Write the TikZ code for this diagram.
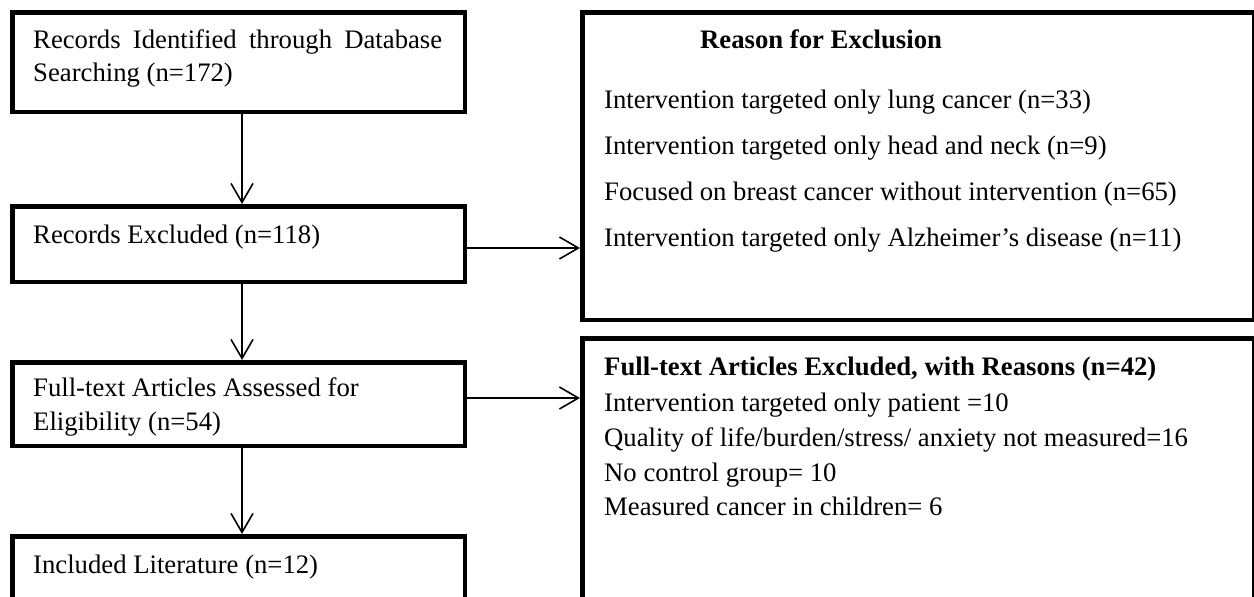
\documentclass[tikz,border=0pt]{standalone}
\usepackage{fontspec}
\setmainfont{Liberation Serif}
\usetikzlibrary{arrows.meta}
\begin{document}
\begin{tikzpicture}[x=1pt,y=-1pt,
  box/.style={draw,line width=4.5pt,rectangle,inner sep=0pt},
  txt/.style={anchor=base west,inner sep=0pt,font=\fontsize{26.7}{30}\selectfont},
  btxt/.style={anchor=base west,inner sep=0pt,font=\fontsize{26.7}{30}\selectfont\bfseries},
  arr/.style={line width=1.6pt,-{Straight Barb[length=19pt,width=22pt,line width=1.6pt]}}]
\useasboundingbox (0,0) rectangle (1254,597);
\clip (0,0) rectangle (1254,597);
% left column boxes
\node[box,minimum width=452.5pt,minimum height=99.5pt] (b1) at (238.5,62) {};
\node[box,minimum width=452.5pt,minimum height=75.5pt] (b2) at (238.5,244) {};
\node[box,minimum width=452.5pt,minimum height=83.5pt] (b3) at (238.5,404) {};
\node[box,minimum width=452.5pt,minimum height=81.5pt] (b4) at (238.5,577) {};
% right column boxes
\node[box,minimum width=672pt,minimum height=307.5pt] (r1) at (918.25,166) {};
\node[box,minimum width=672pt,minimum height=279.5pt] (r2) at (918.25,478) {};
% left texts
\node[txt] (t1a) at (33,48) {\makebox[409pt][s]{Records Identified through Database}};
\node[txt] (t1b) at (33,81) {Searching (n=172)};
\node[txt] (t2) at (33,243) {Records Excluded (n=118)};
\node[txt] (t3a) at (33,396) {Full-text Articles Assessed for};
\node[txt] (t3b) at (33,430) {Eligibility (n=54)};
\node[txt] (t4) at (33,573) {Included Literature (n=12)};
% right box 1 texts
\node[btxt] (h1) at (700,48) {Reason for Exclusion};
\node[txt] (r1a) at (604,108) {Intervention targeted only lung cancer (n=33)};
\node[txt] (r1b) at (604,154) {Intervention targeted only head and neck (n=9)};
\node[txt] (r1c) at (604,200) {Focused on breast cancer without intervention (n=65)};
\node[txt] (r1d) at (604,246) {Intervention targeted only Alzheimer’s disease (n=11)};
% right box 2 texts
\node[btxt] (h2) at (604,375) {Full-text Articles Excluded, with Reasons (n=42)};
\node[txt] (r2a) at (604,411) {Intervention targeted only patient =10};
\node[txt] (r2b) at (604,446) {Quality of life/burden/stress/ anxiety not measured=16};
\node[txt] (r2c) at (604,481) {No control group= 10};
\node[txt] (r2d) at (604,515) {Measured cancer in children= 6};
% connectors
\draw[arr] ([xshift=3.5pt]b1.south) -- ([xshift=3.5pt]b2.north);
\draw[arr] ([xshift=3.5pt]b2.south) -- ([xshift=3.5pt]b3.north);
\draw[arr] ([xshift=3.5pt]b3.south) -- ([xshift=3.5pt]b4.north);
\coordinate (a2) at ([yshift=-4pt]b2.east);
\coordinate (a3) at ([yshift=6pt]b3.east);
\draw[arr] (a2) -- (a2 -| r1.west);
\draw[arr] (a3) -- (a3 -| r2.west);
\end{tikzpicture}
\end{document}
